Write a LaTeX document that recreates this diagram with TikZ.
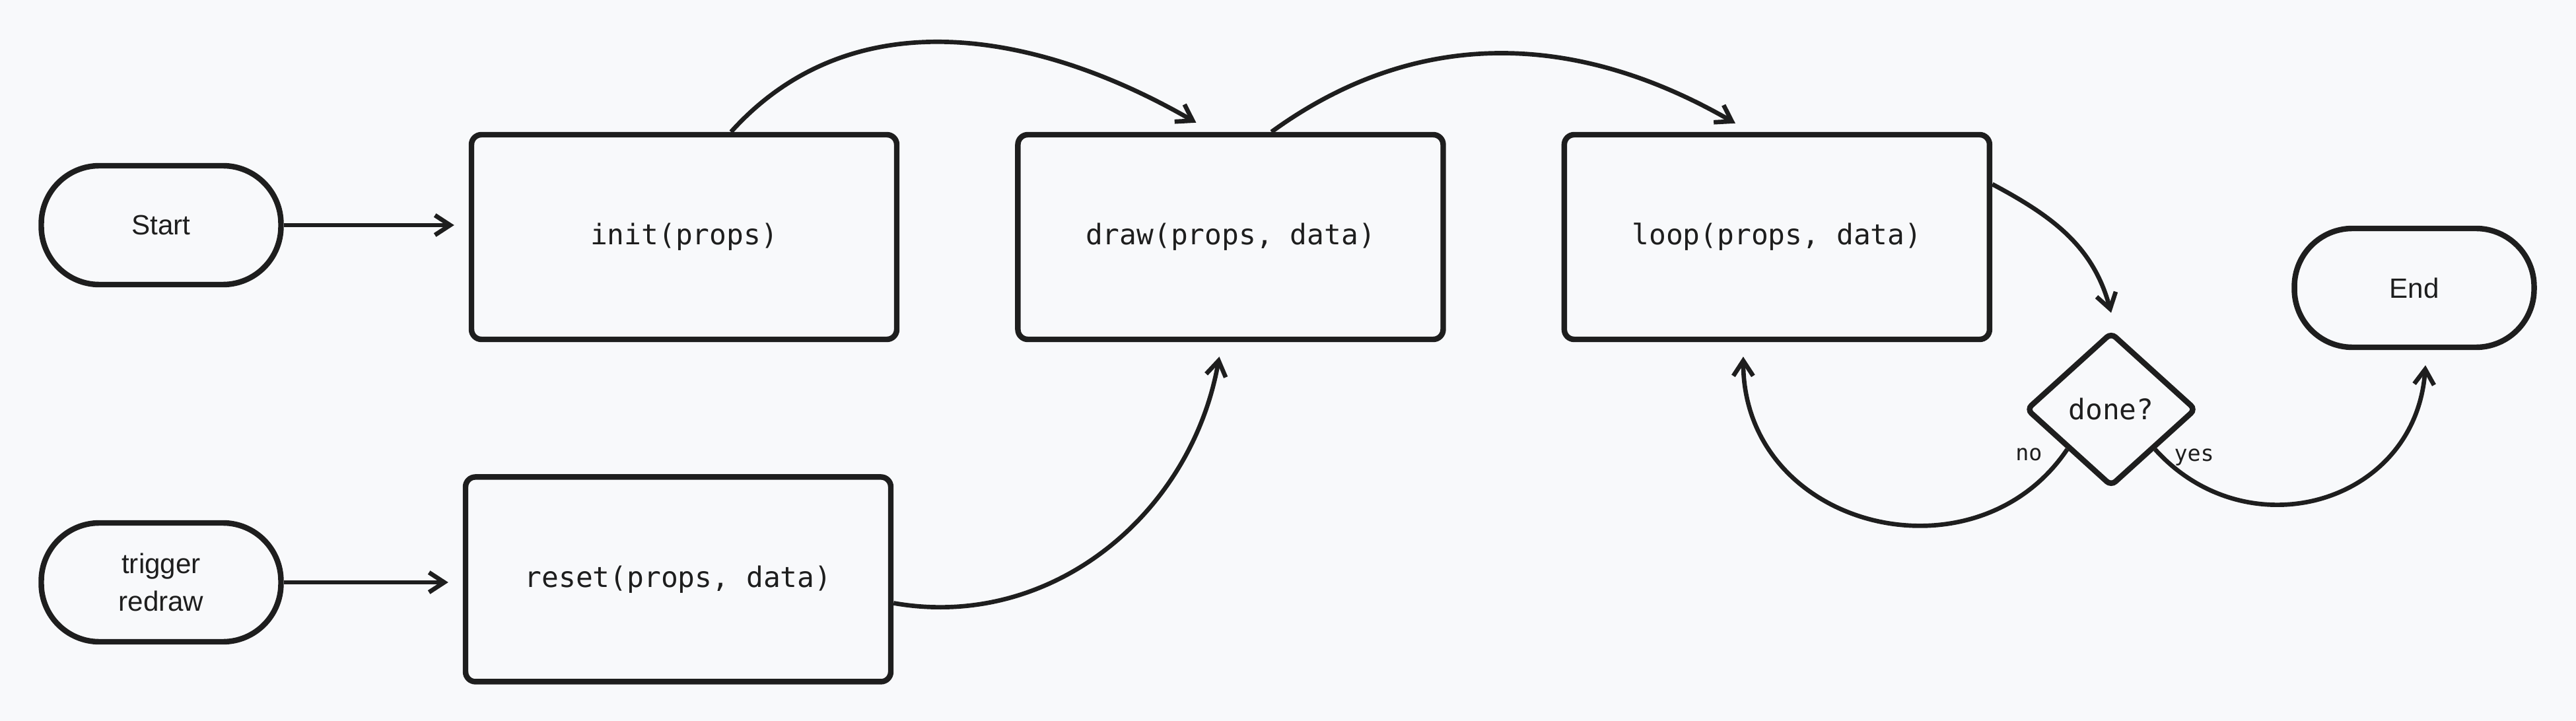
\documentclass[tikz,border=0pt]{standalone}
\usepackage{fontspec}
\setsansfont{Liberation Sans}
\setmonofont{DejaVu Sans Mono}
\usepackage{tikz}
\usetikzlibrary{
  arrows.meta,
  shapes.geometric,
  positioning
}
\definecolor{fcInk}{HTML}{1E1E1E}
\definecolor{fcPaper}{HTML}{F8F9FB}
\tikzset{
  fcnode/.style={
    draw=fcInk, line width=2.4pt, fill=fcPaper, align=center, text=fcInk
  },
  fnbox/.style={fcnode, rounded corners=1.5mm, minimum width=64.4mm, minimum height=31mm,
    font=\fontsize{12.2pt}{15pt}\selectfont\ttfamily},
  term/.style={fcnode, rounded corners=8.8mm, minimum width=36.3mm, minimum height=18mm,
    font=\fontsize{12pt}{16.3pt}\selectfont\sffamily},
  decide/.style={fcnode, diamond, rounded corners=2.5pt, inner sep=0pt,
    minimum width=25.8mm, minimum height=23.4mm, font=\fontsize{12.2pt}{15pt}\selectfont\ttfamily},
  flow/.style={-{Straight Barb[length=2.3mm, width=3mm]}, line width=1.9pt, draw=fcInk},
  tag/.style={font=\fontsize{9.5pt}{11pt}\selectfont\ttfamily, text=fcInk, inner sep=1pt}
}

\begin{document}
\begin{tikzpicture}
  \fill[fcPaper] (0,0) rectangle (39.01,-10.92);
  \useasboundingbox (0,0) rectangle (39.01,-10.92);
  \node[term] (st) at (2.44,-3.41) {Start};
  \node[fnbox] (ini) at (10.36,-3.59) {init(props)};
  \node[fnbox, right=17.5mm of ini] (drw) {draw(props, data)};
  \node[fnbox, right=17.5mm of drw] (lp) {loop(props, data)};
  \node[fnbox, below=20mm of ini, xshift=-0.9mm] (rst) {reset(props, data)};
  \node[term] (trg) at (2.44,-8.82) {trigger\\redraw};
  \node[decide] (dn) at (31.97,-6.20) {done?};
  \node[term] (fin) at (36.56,-4.36) {End};
  \draw[flow, shorten >=2.2mm] (st.east) -- (st.east -| ini.west);
  \draw[flow, shorten >=2.2mm] (trg.east) -- (trg.east -| rst.west);
  \draw[flow] ([xshift=7.1mm]ini.north) to[out=48, in=150] ([xshift=-5.2mm, yshift=1.4mm]drw.north);
  \draw[flow] ([xshift=6.2mm]drw.north) to[out=36, in=150] ([xshift=-6.3mm, yshift=1.3mm]lp.north);
  \draw[flow] ([yshift=-3.6mm]rst.east) to[out=-10, in=-100] ([xshift=-1.7mm, yshift=-2.2mm]drw.south);
  \draw[flow] ([yshift=8mm]lp.east) to[out=-28, in=105] ([yshift=2.5mm]dn.north);
  \draw[flow] (dn.south west) to[out=-124, in=-90, out distance=25mm, in distance=26mm]
    node[tag, at start, xshift=-5.8mm, yshift=-0.8mm] {no} ([xshift=-5.1mm, yshift=-2.2mm]lp.south);
  \draw[flow] (dn.south east) to[out=-48, in=-94, out distance=21mm, in distance=21mm]
    node[tag, at start, xshift=5.9mm, yshift=-1.2mm] {yes} ([xshift=1.7mm, yshift=-2.3mm]fin.south);
\end{tikzpicture}
\end{document}
